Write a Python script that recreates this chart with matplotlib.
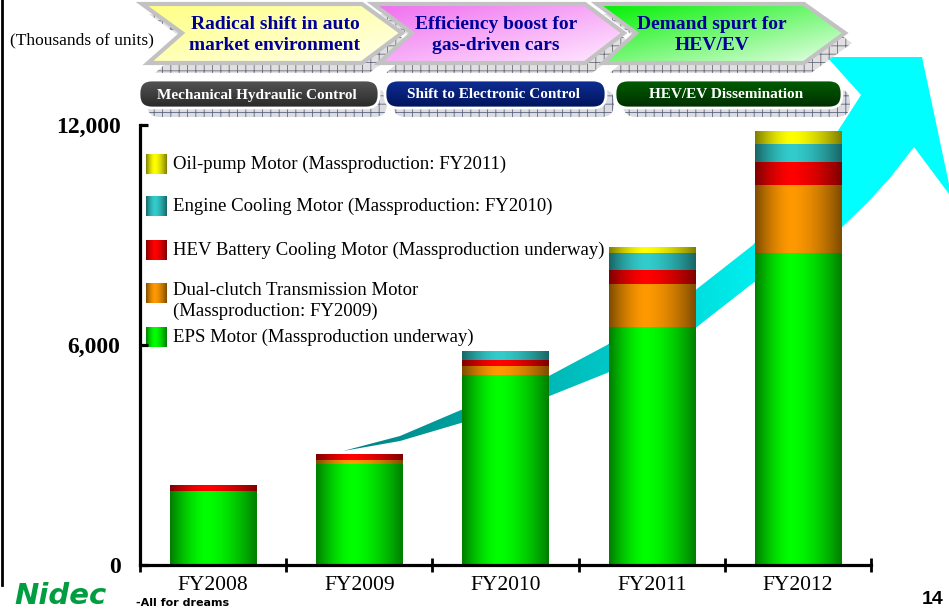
import matplotlib.pyplot as plt
import numpy as np
from matplotlib.patches import Polygon, FancyBboxPatch, Rectangle

plt.rcParams['font.family'] = ['Liberation Serif', 'DejaVu Serif']
plt.rcParams['hatch.linewidth'] = 0.6

# data (thousands of units)
years = ['FY2008', 'FY2009', 'FY2010', 'FY2011', 'FY2012']
eps_motor = [2020, 2750, 5180, 6490, 8510]
dct_motor = [0, 110, 250, 1170, 1850]
hev_battery = [140, 140, 160, 380, 630]
engine_cooling = [0, 0, 220, 460, 490]
oil_pump = [0, 0, 0, 140, 330]

series = [eps_motor, dct_motor, hev_battery, engine_cooling, oil_pump]
series_names = ['EPS Motor (Massproduction underway)',
                'Dual-clutch Transmission Motor\n(Massproduction: FY2009)',
                'HEV Battery Cooling Motor (Massproduction underway)',
                'Engine Cooling Motor (Massproduction: FY2010)',
                'Oil-pump Motor (Massproduction: FY2011)']
series_colors = [(0, 255, 0), (255, 153, 0), (255, 0, 0), (51, 204, 204), (255, 255, 0)]

y_ticks = [0, 6000, 12000]
y_tick_labels = ['0', '6,000', '12,000']

phases = ['Radical shift in auto\nmarket environment',
          'Efficiency boost for\ngas-driven cars',
          'Demand spurt for\nHEV/EV']
controls = ['Mechanical Hydraulic Control', 'Shift to Electronic Control', 'HEV/EV Dissemination']


def cylinder(rgb, n=64):
    t = np.linspace(0, 1, n)
    d = np.where(t < 0.42, (0.42 - t) / 0.42, (t - 0.42) / 0.58)
    b = 1 - 0.5 * d ** 1.6
    c = np.array(rgb) / 255.
    return (b[:, None] * c[None, :])[None, :, :]


def diag_grad(c0, c1, n=40):
    u, v = np.meshgrid(np.linspace(0, 1, n), np.linspace(0, 1, n))
    w = ((u + v) / 2)[:, :, None]
    return np.array(c0) / 255. * (1 - w) + np.array(c1) / 255. * w


def vert_grad(c0, c1, n=40):
    w = np.linspace(0, 1, n)[:, None, None]
    return np.repeat(np.array(c0) / 255. * (1 - w) + np.array(c1) / 255. * w, 2, axis=1)


def gradient_patch(ax, patch, img, zorder):
    ax.add_patch(patch)
    x0, y0, x1, y1 = patch.get_path().transformed(patch.get_patch_transform()).get_extents().extents
    im = ax.imshow(img, extent=(x0, x1, y1, y0), aspect='auto', zorder=zorder, interpolation='bilinear')
    im.set_clip_path(patch)


fig = plt.figure(figsize=(9.49, 6.12), dpi=100)

# decoration layer in pixel coordinates
bg = fig.add_axes([0, 0, 1, 1], zorder=0)
bg.set_autoscale_on(False)
bg.axis('off')

# big curved arrow
arrow_pts = [(343, 451), (400, 436), (461, 410), (547, 377), (607, 345), (693, 292), (753, 245),
             (790, 200), (820, 158), (845, 120), (861, 95), (827, 57), (922, 57), (952, 198),
             (914, 147), (890, 178), (867, 203), (839, 230), (753, 283), (693, 330), (607, 373),
             (547, 397), (461, 423), (400, 441)]
arrow = Polygon(arrow_pts, closed=True, facecolor='none', edgecolor='none')
bg.add_patch(arrow)
xs = np.linspace(0, 1, 200)
ramp = np.clip(xs * 1.3, 0, 1)
arr_img = np.stack([np.zeros_like(ramp), 0.5 + 0.5 * ramp, 0.5 + 0.5 * ramp], axis=-1)[None, :, :]
im = bg.imshow(arr_img, extent=(340, 960, 470, 50), aspect='auto', zorder=1, interpolation='bilinear')
im.set_clip_path(arrow)

# phase chevrons
chevrons = [(142, 362, 402, 182), (373, 585, 624, 412), (597, 804, 845, 636)]
chev_cols = [((255, 255, 130), (255, 255, 235)),
             ((240, 110, 240), (255, 235, 255)),
             ((0, 240, 0), (235, 255, 235))]
text_x = [275, 496, 712]
for (x0, x1, tip, notch), (c0, c1), label, tx in zip(chevrons, chev_cols, phases, text_x):
    pts = [(x0, 4), (x1, 4), (tip, 33), (x1, 63), (x0 + 6, 63), (notch, 33)]
    shadow = Polygon([(x + 7, y + 10) for x, y in pts], closed=True, facecolor=(0.85, 0.85, 0.85, 0.8),
                     edgecolor=(0.42, 0.42, 0.5), hatch='++', linewidth=0, zorder=2)
    bg.add_patch(shadow)
    body = Polygon(pts, closed=True, facecolor='none', edgecolor=(0.76, 0.76, 0.76), linewidth=3, zorder=4)
    gradient_patch(bg, body, diag_grad(c0, c1), 3)
    bg.text(tx, 35, label, ha='center', va='center', fontsize=14, fontweight='bold',
            color=(0, 0, 0.6), linespacing=1.35, zorder=5)

# control pills
pills = [(139, 379), (385, 606), (615, 842)]
pill_cols = [((85, 85, 85), (40, 40, 40)), ((15, 45, 150), (0, 20, 90)), ((0, 95, 0), (0, 45, 0))]
for (x0, x1), (c0, c1), label in zip(pills, pill_cols, controls):
    sh = FancyBboxPatch((x0 + 8, 89), x1 - x0, 28, boxstyle='round,pad=0,rounding_size=13',
                        facecolor=(0.86, 0.86, 0.88), edgecolor=(0.35, 0.4, 0.5), hatch='++',
                        linewidth=0, zorder=2)
    bg.add_patch(sh)
    pill = FancyBboxPatch((x0, 80), x1 - x0, 28, boxstyle='round,pad=0,rounding_size=13',
                          facecolor='none', edgecolor='white', linewidth=2, zorder=4)
    gradient_patch(bg, pill, vert_grad(c0, c1), 3)
    bg.text((x0 + x1) / 2 - 2, 95, label, ha='center', va='center', fontsize=11,
            fontweight='bold', color='white', zorder=5)

# legend
leg_y = [337, 293, 250, 206, 164]
for name, color, ly in zip(series_names, series_colors, leg_y):
    sq = Rectangle((146, ly - 10), 21, 20, facecolor='none', edgecolor='none')
    gradient_patch(bg, sq, cylinder(color), 3)
    nl = name.count('\n')
    bg.text(173, ly + nl * 8, name, ha='left', va='center', fontsize=13.5, linespacing=1.25, zorder=5)

bg.text(10, 40, '(Thousands of units)', ha='left', va='center', fontsize=12.5)
bg.plot([2, 2], [0, 585], color='black', linewidth=2)
bg.text(14, 596, 'Nidec', ha='left', va='center', fontsize=21, fontweight='bold', fontstyle='italic',
        color=(0.0, 0.62, 0.25), family=['DejaVu Sans'])
bg.text(136, 603, '-All for dreams', ha='left', va='center', fontsize=8, fontweight='bold',
        family=['DejaVu Sans Condensed', 'DejaVu Sans'])
bg.text(944, 600, '14', ha='right', va='center', fontsize=14, fontweight='bold', family=['Liberation Sans'])
bg.set_xlim(0, 949)
bg.set_ylim(612, 0)

# chart
ax = fig.add_axes([140 / 949, 47 / 612, 731 / 949, 440 / 612], zorder=1)
ax.patch.set_alpha(0)
x = np.arange(len(years))
bottoms = np.zeros(len(years))
for vals, color in zip(series, series_colors):
    rects = ax.bar(x, vals, width=0.59, bottom=bottoms, color='none', linewidth=0)
    for r in rects:
        if r.get_height() <= 0:
            continue
        ax.imshow(cylinder(color), extent=(r.get_x(), r.get_x() + r.get_width(), r.get_y(),
                                           r.get_y() + r.get_height()),
                  aspect='auto', zorder=2, interpolation='bilinear')
    bottoms += np.array(vals)

ax.set_xlim(-0.5, 4.5)
ax.set_ylim(0, 12000)
for s in ['top', 'right']:
    ax.spines[s].set_visible(False)
for s in ['left', 'bottom']:
    ax.spines[s].set_linewidth(2.3)
ax.set_yticks(y_ticks, y_tick_labels, fontsize=17, fontweight='bold')
ax.tick_params(axis='y', direction='in', length=6, width=2.3, pad=14)
ax.set_xticks(x, years, fontsize=15.5)
ax.set_xticks(np.arange(-0.5, 5, 1), minor=True)
ax.tick_params(axis='x', which='major', length=0, pad=8)
ax.tick_params(axis='x', which='minor', direction='inout', length=10, width=2)

fig.savefig('out.png', dpi=100)
